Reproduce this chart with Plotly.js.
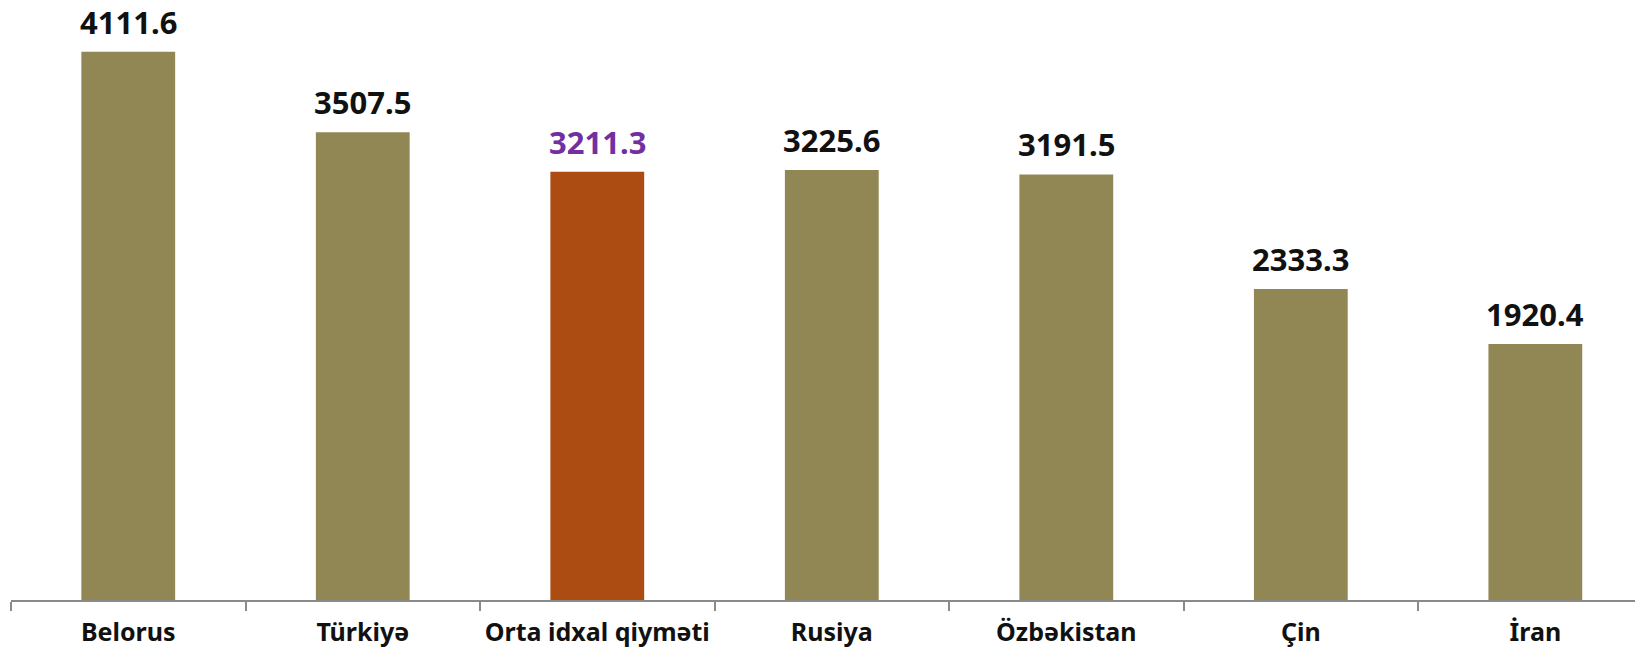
<!DOCTYPE html>
<html><head><meta charset="utf-8">
<script src="https://cdn.plot.ly/plotly-3.0.1.min.js"></script>
<style>html,body{margin:0;padding:0;background:#fff}#chart{width:1635px;height:650px}</style>
</head><body><div id="chart"></div>
<script>
const categories = ["Belorus", "Türkiyə", "Orta idxal qiyməti", "Rusiya", "Özbəkistan", "Çin", "İran"];
const values = [4111.6, 3507.5, 3211.3, 3225.6, 3191.5, 2333.3, 1920.4];
const labels = ["4111.6", "3507.5", "3211.3", "3225.6", "3191.5", "2333.3", "1920.4"];
const barColors = ["#918755", "#918755", "#AC4C12", "#918755", "#918755", "#918755", "#918755"];
const labelColors = ["#111111", "#111111", "#7030A0", "#111111", "#111111", "#111111", "#111111"];

const trace = {
  type: "bar", x: categories, y: values,
  marker: {color: barColors}, width: 0.4, hoverinfo: "none"
};
const annotations = categories.map((c, i) => ({
  x: c, y: values[i], xref: "x", yref: "y", text: labels[i], showarrow: false,
  yanchor: "bottom", yshift: 7,
  font: {family: "Noto Sans", size: 31, color: labelColors[i], weight: "bold"}
}));
const layout = {
  width: 1635, height: 650,
  margin: {l: 11, r: 0, t: 0, b: 50},
  paper_bgcolor: "#fff", plot_bgcolor: "#fff",
  showlegend: false,
  bargap: 0.6,
  xaxis: {
    type: "category", range: [-0.5, 6.425], fixedrange: true,
    showline: true, linecolor: "#8a8a8a", linewidth: 2,
    ticks: "outside", tickson: "boundaries", ticklen: 9, tickwidth: 2, tickcolor: "#8a8a8a",
    ticklabelstandoff: 9, tickangle: 0,
    tickfont: {family: "Noto Sans", size: 25, color: "#111", weight: "bold"},
    showgrid: false, zeroline: false
  },
  yaxis: {range: [0, 4500], visible: false, showgrid: false, zeroline: false, fixedrange: true},
  annotations: annotations
};
Plotly.newPlot("chart", [trace], layout, {staticPlot: true, displayModeBar: false});
</script></body></html>
